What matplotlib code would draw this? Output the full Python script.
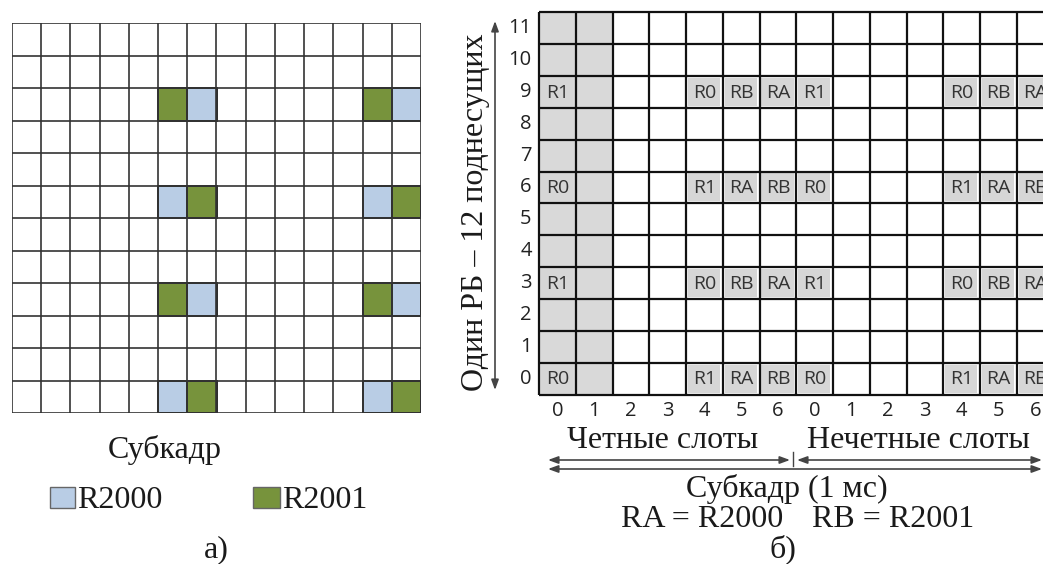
import matplotlib
matplotlib.use('Agg')
import matplotlib.pyplot as plt
from matplotlib.patches import Rectangle

W, H = 1043, 564

# ---- data ----
n_symbols = 14
n_subcarriers = 12
symbol_tick_labels = ['0', '1', '2', '3', '4', '5', '6', '0', '1', '2', '3', '4', '5', '6']
subcarrier_tick_labels = [str(i) for i in range(12)]
control_symbols = [0, 1]
rs_symbols = [0, 4, 5, 6, 7, 11, 12, 13]
rs_subcarriers_a = [0, 6]
rs_labels_a = ['R0', 'R1', 'RA', 'RB', 'R0', 'R1', 'RA', 'RB']
rs_subcarriers_b = [3, 9]
rs_labels_b = ['R1', 'R0', 'RB', 'RA', 'R1', 'R0', 'RB', 'RA']
dmrs_names = ['RA', 'RB']
dmrs_legend = ['R2000', 'R2001']
dmrs_colors = ['#b9cde5', '#77933c']

color_of = dict(zip(dmrs_names, dmrs_colors))
cells = []
for sc in rs_subcarriers_a:
    cells += [(s, sc, l) for s, l in zip(rs_symbols, rs_labels_a)]
for sc in rs_subcarriers_b:
    cells += [(s, sc, l) for s, l in zip(rs_symbols, rs_labels_b)]

SERIF = ['Liberation Serif', 'DejaVu Serif']
SANS = ['Open Sans', 'DejaVu Sans']

fig = plt.figure(figsize=(W / 100, H / 100), dpi=100)


def px_axes(x0, y0, x1, y1):
    return fig.add_axes([x0 / W, 1 - y1 / H, (x1 - x0) / W, (y1 - y0) / H])


# ---- panel a ----
axA = px_axes(12, 23.3, 421, 413.3)
axA.set_xlim(0, n_symbols)
axA.set_ylim(0, n_subcarriers)
axA.axis('off')
for s, sc, l in cells:
    if l in color_of:
        axA.add_patch(Rectangle((s, sc), 1, 1, facecolor=color_of[l],
                                edgecolor='#2a2a2a', lw=1.4, zorder=2))
axA.vlines(range(n_symbols + 1), 0, n_subcarriers, color='#333333', lw=1.2, zorder=3)
axA.hlines(range(n_subcarriers + 1), 0, n_symbols, color='#333333', lw=1.2, zorder=3)

# ---- panel b ----
cw = 36.75
axB = px_axes(539, 12.3, 539 + n_symbols * cw, 394.5)
axB.set_xlim(0, n_symbols)
axB.set_ylim(0, n_subcarriers)
axB.axis('off')
for s in control_symbols:
    for sc in range(n_subcarriers):
        axB.add_patch(Rectangle((s, sc), 1, 1, facecolor='#d9d9d9', edgecolor='none', zorder=1))
for s, sc, l in cells:
    axB.add_patch(Rectangle((s + 0.05, sc + 0.06), 0.88, 0.88, facecolor='#d6d6d6',
                            edgecolor='none', zorder=1))
    axB.text(s + 0.5, sc + 0.48, l, ha='center', va='center', fontsize=14,
             family=SANS, color='#333333', zorder=4)
axB.vlines(range(n_symbols + 1), 0, n_subcarriers, color='#111111', lw=1.6, zorder=3, clip_on=False)
axB.hlines(range(n_subcarriers + 1), 0, n_symbols, color='#111111', lw=1.6, zorder=3, clip_on=False)
for i, t in enumerate(subcarrier_tick_labels):
    axB.text(-0.2, i + 0.5, t, ha='right', va='center', fontsize=14.5, family=SANS,
             color='#222222', clip_on=False)
for i, t in enumerate(symbol_tick_labels):
    axB.text(i + 0.5, -0.52, t, ha='center', va='center', fontsize=14.5, family=SANS,
             color='#222222', clip_on=False)

# ---- overlay annotations (pixel coordinates) ----
ov = fig.add_axes([0, 0, 1, 1], zorder=10)
ov.set_xlim(0, W)
ov.set_ylim(H, 0)
ov.axis('off')
ov.patch.set_alpha(0)

tk = dict(family=SERIF, color='#1a1a1a', fontsize=23)
ov.text(165, 458, 'Субкадр', ha='center', va='baseline', **tk)
ov.add_patch(Rectangle((50, 487), 25, 21, facecolor=dmrs_colors[0], edgecolor='#666666', lw=1))
ov.text(77, 508, dmrs_legend[0], ha='left', va='baseline', **tk)
ov.add_patch(Rectangle((253, 487), 27, 21, facecolor=dmrs_colors[1], edgecolor='#666666', lw=1))
ov.text(282, 508, dmrs_legend[1], ha='left', va='baseline', **tk)
ov.text(216, 557, 'а)', ha='center', va='baseline', **tk)

ov.text(483, 212, 'Один РБ – 12 поднесущих', ha='center', va='baseline', rotation=90,
        rotation_mode='anchor', **tk)

arr = dict(arrowstyle='<|-|>,head_length=0.6,head_width=0.22', color='#444444', lw=1.2,
           shrinkA=0, shrinkB=0, mutation_scale=10)
ov.annotate('', xy=(495, 21), xytext=(495, 390), arrowprops=arr)

ov.text(663, 448, 'Четные слоты', ha='center', va='baseline', **tk)
ov.text(918, 448, 'Нечетные слоты', ha='center', va='baseline', **tk)
ov.annotate('', xy=(548, 460), xytext=(790, 460), arrowprops=arr)
ov.annotate('', xy=(797, 460), xytext=(1042, 460), arrowprops=arr)
ov.plot([793, 793], [452, 466], color='#444444', lw=1)
ov.annotate('', xy=(548, 469), xytext=(1042, 469), arrowprops=arr)
ov.text(787, 497, 'Субкадр (1 мс)', ha='center', va='baseline', **tk)
ov.text(783, 527, 'RA = R2000', ha='right', va='baseline', **tk)
ov.text(812, 527, 'RB = R2001', ha='left', va='baseline', **tk)
ov.text(783, 557, 'б)', ha='center', va='baseline', **tk)

fig.savefig('out.png', dpi=100, facecolor='white')
